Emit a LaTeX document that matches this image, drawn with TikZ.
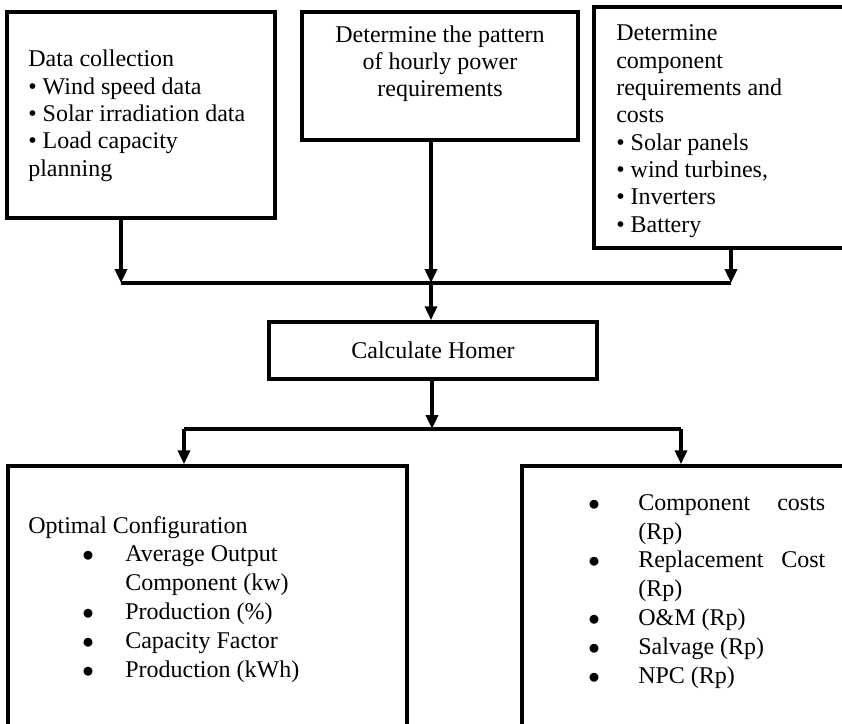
\documentclass[tikz,border=0pt]{standalone}
\usepackage{fontspec}
\setmainfont{Liberation Serif}
\usepackage{tikz}
\usetikzlibrary{arrows.meta}

\tikzset{
  blk/.style={draw, line width=2.6pt, inner sep=0pt},
  txt/.style={inner sep=0pt, align=left, font=\fontsize{18pt}{20.5pt}\selectfont},
  txtb/.style={inner sep=0pt, align=left, font=\fontsize{18pt}{21.6pt}\selectfont},
  arr/.style={line width=2.6pt, -{Triangle[length=10.5pt,width=9pt]}},
  ln/.style={line width=2.6pt}
}
\newcommand{\itmL}{\hspace*{40.5pt}\makebox[32.25pt][l]{$\bullet$}}
\newcommand{\itmR}{\makebox[37.5pt][l]{$\bullet$}}

\begin{document}
\begin{tikzpicture}[x=0.75pt,y=0.75pt,yscale=-1]
\clip (0,0) rectangle (842,724);

%Shape: Rectangle [box1]
\node[blk, minimum width=201pt, minimum height=154.5pt] (box1) at (141,115) {};
%Shape: Rectangle [box2]
\node[blk, minimum width=207pt, minimum height=96pt] (box2) at (440,76) {};
%Shape: Rectangle [box3]
\node[blk, minimum width=207pt, minimum height=180.75pt] (box3) at (732,127.5) {};
%Shape: Rectangle [calc]
\node[blk, minimum width=246pt, minimum height=42.75pt, font=\fontsize{18pt}{20.5pt}\selectfont] (calc) at (433,350.5) {Calculate Homer};
%Shape: Rectangle [outL]
\node[blk, minimum width=299.25pt, minimum height=235.5pt] (outL) at (207.5,623) {};
%Shape: Rectangle [outR]
\node[blk, minimum width=268.5pt, minimum height=235.5pt] (outR) at (701,623) {};

% Text Node (base = last line)
\node[txt, anchor=base west] (t1) at (28,176) {Data collection\\\textbullet{} Wind speed data\\\textbullet{} Solar irradiation data\\\textbullet{} Load capacity\\planning};
% Text Node
\node[txt, anchor=base, align=center] (t2) at (440,97) {Determine the pattern\\of hourly power\\requirements};
% Text Node
\node[txt, anchor=base west] (t3) at (616,232) {Determine\\component\\requirements and\\costs\\\textbullet{} Solar panels\\\textbullet{} wind turbines,\\\textbullet{} Inverters\\\textbullet{} Battery};
% Text Node
\node[txtb, anchor=base west] (t4) at (28,677) {Optimal Configuration\\\itmL Average Output\\\hspace*{72.75pt}Component (kw)\\\itmL Production (\%)\\\itmL Capacity Factor\\\itmL Production (kWh)};
% Text Node
\node[txtb, anchor=base west] (t5) at (588,683) {\itmR\makebox[140.25pt][s]{Component costs}\\\hspace*{37.5pt}(Rp)\\\itmR\makebox[140.25pt][s]{Replacement Cost}\\\hspace*{37.5pt}(Rp)\\\itmR O\&M (Rp)\\\itmR Salvage (Rp)\\\itmR NPC (Rp)};

%Junctions
\coordinate (jL) at (121,283);
\coordinate (jM) at (431,283);
\coordinate (jR) at (731,283);
\coordinate (sL) at (184,429);
\coordinate (sM) at (432,429);
\coordinate (sR) at (681,429);

%Straight Lines
\draw[arr] (box1.south -| jL) -- (jL);
\draw[arr] (box2.south -| jM) -- (jM);
\draw[arr] (box3.south -| jR) -- (jR);
\draw[ln] (jL) -- (jR);
\draw[arr] (jM) -- (calc.north -| jM);
\draw[arr] (calc.south -| sM) -- (sM);
\draw[ln] (sL) -- (sR);
\draw[arr] (sL) -- (outL.north -| sL);
\draw[arr] (sR) -- (outR.north -| sR);

\end{tikzpicture}
\end{document}
